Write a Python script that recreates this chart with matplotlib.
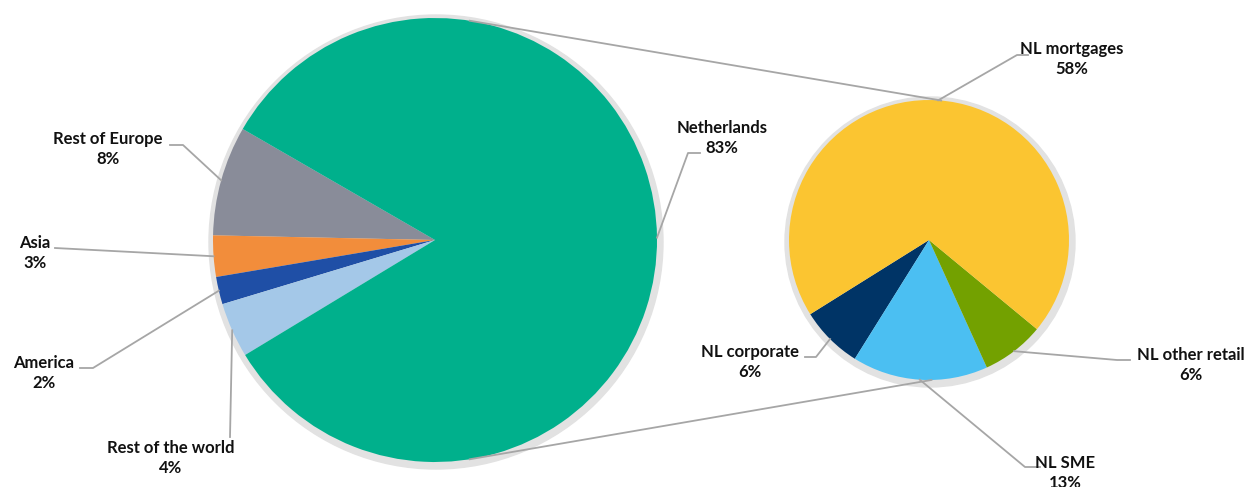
import numpy as np
import matplotlib.pyplot as plt
from matplotlib.patches import Circle

# left pie: share by region
regions = ["Rest of Europe", "Asia", "America", "Rest of the world", "Netherlands"]
region_pct = [8, 3, 2, 4, 83]
region_colors = ["#898C99", "#F28D3B", "#1F4FA6", "#A4C8E8", "#00B08C"]

# right pie: breakdown of Netherlands
nl_parts = ["NL corporate", "NL SME", "NL other retail", "NL mortgages"]
nl_pct = [6, 13, 6, 58]
nl_colors = ["#003466", "#4BBFF2", "#73A100", "#FBC531"]

W, H = 1251, 487
LEFT_C, LEFT_R = (435, H - 240), 222
RIGHT_C, RIGHT_R = (929, H - 240), 140
LINE_COL = "#A6A6A6"
TEXT_COL = "#111111"

plt.rcParams['font.family'] = ['Lato', 'DejaVu Sans']

fig = plt.figure(figsize=(W / 100, H / 100), dpi=100)
ax = fig.add_axes([0, 0, 1, 1])


def rim_point(center, r, ang):
    a = np.deg2rad(ang)
    return center[0] + r * np.cos(a), center[1] + r * np.sin(a)


def draw_pie(values, colors, center, r, start):
    ax.add_patch(Circle((center[0] + 1, center[1] - 2), r + 5, color="#E2E2E2", zorder=1))
    wedges, _ = ax.pie(values, colors=colors, startangle=start, center=center, radius=r,
                       wedgeprops=dict(linewidth=0), frame=True)
    for w in wedges:
        w.set_zorder(2)
    return wedges


left_w = draw_pie(region_pct, region_colors, LEFT_C, LEFT_R, 150)
right_w = draw_pie(nl_pct, nl_colors, RIGHT_C, RIGHT_R, -148)
ax.set_xlim(0, W)
ax.set_ylim(0, H)
ax.set_aspect('equal')
ax.axis('off')

# connecting lines between the two pies
for la, ra in [(81, 85), (-81, -89)]:
    p1 = rim_point(LEFT_C, LEFT_R, la)
    p2 = rim_point(RIGHT_C, RIGHT_R, ra)
    ax.plot([p1[0], p2[0]], [p1[1], p2[1]], color=LINE_COL, lw=1.3, zorder=3)

# label position (first line centre, image coords), elbow points of leader
left_labels = [
    ((108, 138), [(183, 145), (170, 145)]),
    ((35, 242), [(55, 248)]),
    ((44, 362), [(93, 368), (80, 368)]),
    ((171, 447), [(230, 437)]),
    ((722, 127), [(688, 153), (700, 153)]),
]
right_labels = [
    ((750, 351), [(816, 357), (805, 357)]),
    ((1065, 462), [(1025, 467), (1040, 467)]),
    ((1191, 354), [(1117, 360), (1130, 360)]),
    ((1072, 48), [(1017, 55), (1028, 55)]),
]


def draw_labels(wedges, names, pcts, center, r, specs):
    for w, name, pct, (tpos, elbow) in zip(wedges, names, pcts, specs):
        mid = (w.theta1 + w.theta2) / 2
        start = rim_point(center, r, mid)
        xs = [start[0]] + [e[0] for e in elbow]
        ys = [start[1]] + [H - e[1] for e in elbow]
        ax.plot(xs, ys, color=LINE_COL, lw=1.3, zorder=3)
        ax.text(tpos[0], H - tpos[1] - 11, f"{name}\n{pct}%", ha='center', va='center',
                fontsize=12, fontweight='bold', color=TEXT_COL, linespacing=1.32)


draw_labels(left_w, regions, region_pct, LEFT_C, LEFT_R, left_labels)
draw_labels(right_w, nl_parts, nl_pct, RIGHT_C, RIGHT_R, right_labels)

fig.savefig("out.png", dpi=100)
